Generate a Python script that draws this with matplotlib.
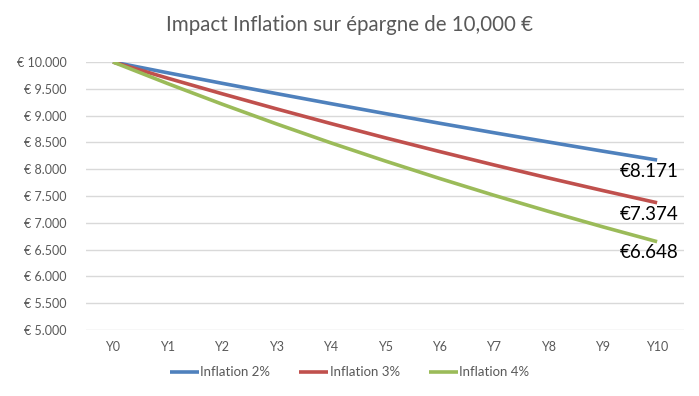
import numpy as np
import matplotlib.pyplot as plt
from matplotlib.ticker import FuncFormatter

plt.rcParams['font.family'] = ['Lato', 'DejaVu Sans']

years = ['Y0', 'Y1', 'Y2', 'Y3', 'Y4', 'Y5', 'Y6', 'Y7', 'Y8', 'Y9', 'Y10']
infl_2 = [10000, 9800, 9604, 9412, 9224, 9039, 8858, 8681, 8508, 8337, 8171]
infl_3 = [10000, 9700, 9409, 9127, 8853, 8587, 8330, 8080, 7837, 7602, 7374]
infl_4 = [10000, 9600, 9216, 8847, 8493, 8154, 7828, 7514, 7214, 6925, 6648]
series = [('Inflation 2%', infl_2, '#4F81BD'),
          ('Inflation 3%', infl_3, '#C0504D'),
          ('Inflation 4%', infl_4, '#9BBB59')]

fig = plt.figure(figsize=(6.99, 3.96), dpi=100)
ax = fig.add_axes([0.1227, 0.1667, 0.8563, 0.6767])

x = np.arange(len(years))
for name, vals, col in series:
    ax.plot(x, vals, color=col, lw=2.6, label=name, solid_capstyle='butt')
    ax.annotate('€' + f'{vals[-1]:,}'.replace(',', '.'), (x[-1], vals[-1]),
                xytext=(-6, -2), textcoords='offset points', ha='center', va='top',
                fontsize=13.5, color='black')

ax.set_xlim(-0.5, len(years) - 0.5)
ax.set_ylim(5000, 10000)
ax.set_yticks(np.arange(5000, 10001, 500))
ax.yaxis.set_major_formatter(FuncFormatter(lambda v, p: '€ ' + f'{int(v):,}'.replace(',', '.')))
ax.set_xticks(x)
ax.set_xticklabels(years)
ax.grid(axis='y', color='#D9D9D9', lw=1)
ax.set_axisbelow(True)
for s in ax.spines.values():
    s.set_visible(False)
ax.tick_params(axis='both', length=0, labelsize=9, colors='#595959', pad=8)
ax.tick_params(axis='y', pad=14)

fig.suptitle('Impact Inflation sur épargne de 10,000 €', fontsize=14.8, color='#595959',
             y=0.963)
fig.legend(loc='center', bbox_to_anchor=(0.5, 0.06), ncol=3, frameon=False,
           fontsize=9.5, handlelength=2.2, handletextpad=0.1, columnspacing=2.2,
           labelcolor='#595959')

fig.savefig('out.png', dpi=100)
